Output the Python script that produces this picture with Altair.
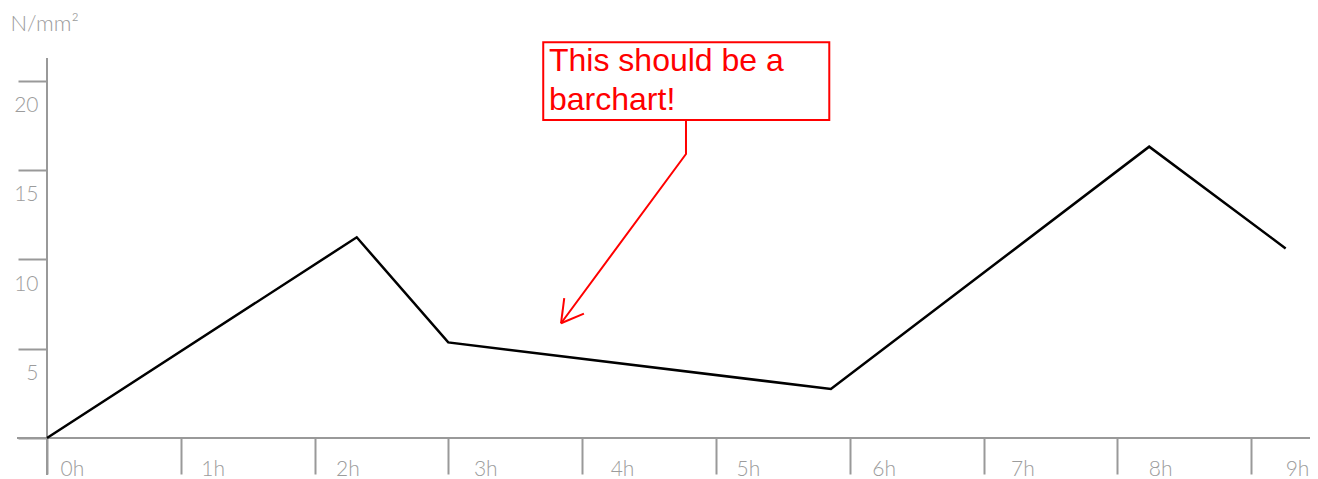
import altair as alt
import pandas as pd

# ---- data ----
hours = [0, 2.315, 2.999, 5.859, 8.238, 9.258]
stress = [0, 11.23, 5.35, 2.74, 16.30, 10.61]
x_ticks = list(range(10))
y_ticks = [0, 5, 10, 15, 20]

# ---- annotation (in data space) ----
note_text = "This should be a\nbarchart!"
note_x = [3.752]
note_y = [20.53]
box_x = [3.709, 5.847]
box_y = [22.14, 17.79]
leader_x = [4.776, 4.776, 3.842]
leader_y = [17.79, 15.89, 6.42]
head_x = [3.866, 4.013]
head_y = [7.82, 6.96]

GRAY = "#999999"
LABEL_GRAY = "#9c9c9c"
RED = "#ff0000"
W, H = 1263, 430

xscale = alt.Scale(domain=[0, 9.44], nice=False, zero=False)
yscale = alt.Scale(domain=[0, 24.06], nice=False)

line_df = pd.DataFrame({"hour": hours, "stress": stress, "i": range(len(hours))})

x_axis = alt.Axis(
    values=x_ticks, labelExpr="datum.value + 'h'", domain=False, grid=False,
    tickSize=36, tickWidth=2, tickColor=GRAY,
    labelAlign="left", labelBaseline="alphabetic", labelPadding=1,
    labelOffset={"expr": "[13, 20, 21, 25, 28, 20, 22, 27, 31, 34][datum.value]"},
    labelFont="Lato", labelFontWeight=300, labelFontSize=21, labelColor=LABEL_GRAY,
    labelOverlap=False, labelFlush=False, title=None,
)
y_axis = alt.Axis(
    values=y_ticks, labelExpr="datum.value == 0 ? '' : datum.label", domain=False, grid=False,
    tickSize=29, tickWidth=2, tickColor=GRAY,
    labelAlign="right", labelBaseline="alphabetic", labelPadding=-20, labelOffset=31,
    labelFont="Lato", labelFontWeight=300, labelFontSize=21, labelColor=LABEL_GRAY,
    labelOverlap=False,
    title="N/mm²", titleAngle=0, titleAlign="left", titleBaseline="alphabetic",
    titleX=-37, titleY=22, titleFont="Lato", titleFontWeight=300, titleFontSize=22,
    titleColor=LABEL_GRAY,
)

dummy = pd.DataFrame({"a": [0]})
yline = alt.Chart(dummy).mark_rule(color=GRAY, strokeWidth=2).encode(
    x=alt.value(0), y=alt.value(50), y2=alt.value(467)
)
xline = alt.Chart(dummy).mark_rule(color=GRAY, strokeWidth=2).encode(
    y=alt.value(H), x=alt.value(-30), x2=alt.value(W)
)

line = alt.Chart(line_df).mark_line(color="black", strokeWidth=2.5).encode(
    x=alt.X("hour:Q", scale=xscale, axis=x_axis),
    y=alt.Y("stress:Q", scale=yscale, axis=y_axis),
    order="i:Q",
)

box = alt.Chart(pd.DataFrame({"x": [box_x[0]], "x2": [box_x[1]], "y": [box_y[0]], "y2": [box_y[1]]})).mark_rect(
    filled=False, stroke=RED, strokeWidth=2
).encode(x="x:Q", x2="x2:Q", y="y:Q", y2="y2:Q")

text = alt.Chart(pd.DataFrame({"x": note_x, "y": note_y, "t": [note_text]})).mark_text(
    align="left", baseline="alphabetic", font="Liberation Sans", fontSize=32,
    lineHeight=39, lineBreak="\n", color=RED
).encode(x="x:Q", y="y:Q", text="t:N")

leader = alt.Chart(pd.DataFrame({"x": leader_x, "y": leader_y, "i": range(3)})).mark_line(
    color=RED, strokeWidth=2
).encode(x="x:Q", y="y:Q", order="i:Q")

head = alt.Chart(pd.DataFrame({
    "x": [leader_x[-1]] * 2, "y": [leader_y[-1]] * 2, "x2": head_x, "y2": head_y
})).mark_rule(color=RED, strokeWidth=2).encode(x="x:Q", y="y:Q", x2="x2:Q", y2="y2:Q")

chart = alt.layer(xline, yline, line, box, text, leader, head).properties(
    width=W, height=H,
    autosize=alt.AutoSizeParams(type="none"),
    padding={"left": 39, "top": 0, "right": 0, "bottom": 42},
).configure_view(strokeWidth=0)

chart.save("out.html", embed_options={"renderer": "svg", "actions": False})
